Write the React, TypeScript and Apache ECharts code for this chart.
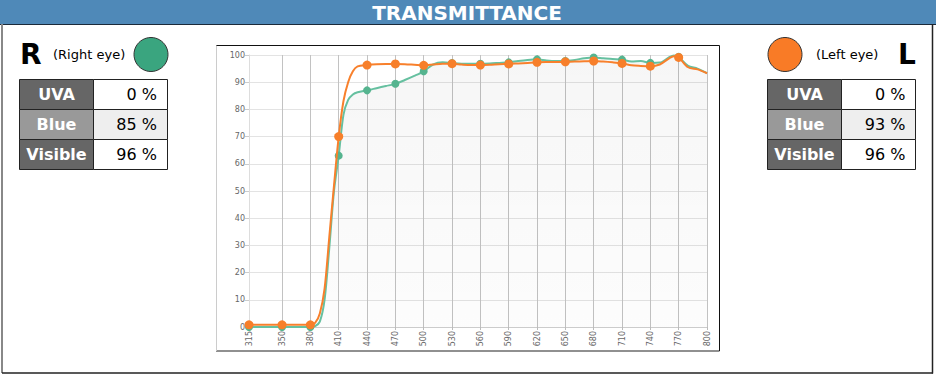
import React, { useEffect, useRef } from "react";
import * as echarts from "echarts";

// ---- data ----
const wavelengths = [315, 350, 380, 385, 390, 395, 400, 405, 410, 415, 420, 425, 430, 440, 450, 460, 470, 480, 490, 500, 510, 520, 530, 540, 550, 560, 570, 580, 590, 600, 610, 620, 630, 640, 650, 660, 670, 680, 690, 700, 710, 720, 730, 740, 750, 760, 765, 770, 780, 790, 800];
const rightEye = [0, 0, 0, 0.3, 2, 10, 29, 50, 63, 78, 83.5, 85.5, 86.3, 87.0, 87.8, 88.6, 89.4, 90.8, 92.3, 94.0, 96.5, 97.3, 97.0, 96.8, 96.8, 96.8, 96.9, 97.1, 97.3, 97.8, 98.2, 98.4, 98.0, 97.8, 97.8, 98.2, 98.8, 99.1, 98.8, 98.5, 98.3, 97.6, 97.8, 97.1, 97.2, 99.2, 99.8, 99.3, 96.0, 95.0, 93.3];
const leftEye = [0.8, 0.8, 0.8, 1.5, 5, 14, 33, 52, 70, 83, 90, 94, 95.8, 96.3, 96.6, 96.7, 96.7, 96.6, 96.4, 96.2, 96.5, 96.8, 96.8, 96.5, 96.3, 96.3, 96.4, 96.6, 96.7, 96.9, 97.1, 97.3, 97.4, 97.4, 97.5, 97.6, 97.7, 97.8, 97.6, 97.3, 96.9, 96.2, 96.0, 95.9, 96.5, 98.8, 99.5, 99.1, 95.5, 94.7, 93.3];
const markerWavelengths = [315, 350, 380, 410, 440, 470, 500, 530, 560, 590, 620, 650, 680, 710, 740, 770];
const xTickLabels = [315, 350, 380, 410, 440, 470, 500, 530, 560, 590, 620, 650, 680, 710, 740, 770, 800];
const rowLabels = ["UVA", "Blue", "Visible"];
const rightValues = [0, 85, 96];
const leftValues = [0, 93, 96];

const FONT = "DejaVu Sans";

function table(x0: number, valueRight: number, values: number[]) {
  const els: any[] = [];
  const labelBg = ["#666666", "#999999", "#666666"];
  const valueBg = ["#ffffff", "#eeeeee", "#ffffff"];
  rowLabels.forEach((lab, i) => {
    const y = 79.5 + 30 * i;
    els.push({
      type: "rect",
      shape: { x: x0, y, width: 74, height: 30 },
      style: { fill: labelBg[i], stroke: "#222", lineWidth: 1 },
    });
    els.push({
      type: "rect",
      shape: { x: x0 + 74, y, width: 74, height: 30 },
      style: { fill: valueBg[i], stroke: "#222", lineWidth: 1 },
    });
    els.push({
      type: "text",
      x: x0 + 37,
      y: y + 15,
      style: {
        text: lab,
        fill: "#fff",
        font: `bold 16px "${FONT}"`,
        textAlign: "center",
        textVerticalAlign: "middle",
      },
    });
    els.push({
      type: "text",
      x: valueRight,
      y: y + 15,
      style: {
        text: `${values[i]} %`,
        fill: "#000",
        font: `16px "${FONT}"`,
        textAlign: "right",
        textVerticalAlign: "middle",
      },
    });
  });
  return els;
}

export default function App() {
  const ref = useRef<HTMLDivElement>(null);
  useEffect(() => {
    if (!ref.current) return;
    const chart = echarts.init(ref.current, null, { renderer: "svg" });
    const isMarker = (v: any) => markerWavelengths.includes(v[0]);
    const graphic: any[] = [
      // chart frame background
      {
        type: "rect",
        z: -10,
        shape: { x: 216, y: 45.5, width: 503.5, height: 305.5 },
        style: { fill: "#fff", stroke: "none" },
      },
      { type: "line", shape: { x1: 216, y1: 45.5, x2: 719.5, y2: 45.5 }, style: { stroke: "#111", lineWidth: 1 } },
      { type: "line", shape: { x1: 719.5, y1: 45.5, x2: 719.5, y2: 351 }, style: { stroke: "#111", lineWidth: 1 } },
      { type: "line", shape: { x1: 216, y1: 351, x2: 719.5, y2: 351 }, style: { stroke: "#222", lineWidth: 1.2 } },
      { type: "line", shape: { x1: 216.5, y1: 45.5, x2: 216.5, y2: 351 }, style: { stroke: "#ccc", lineWidth: 1 } },
      // title bar
      {
        type: "rect",
        shape: { x: 0, y: 0, width: 936, height: 24 },
        style: { fill: "#4f89b8" },
      },
      { type: "line", shape: { x1: 0, y1: 24.5, x2: 936, y2: 24.5 }, style: { stroke: "#1b2a3a", lineWidth: 1 } },
      {
        type: "text",
        x: 467,
        y: 12.5,
        style: {
          text: "TRANSMITTANCE",
          fill: "#fff",
          font: `bold 20px "${FONT}"`,
          textAlign: "center",
          textVerticalAlign: "middle",
        },
      },
      // outer box
      { type: "line", shape: { x1: 2, y1: 24, x2: 2, y2: 373 }, style: { stroke: "#888", lineWidth: 2 } },
      { type: "line", shape: { x1: 2, y1: 373, x2: 933, y2: 373 }, style: { stroke: "#222", lineWidth: 1.5 } },
      { type: "line", shape: { x1: 932.5, y1: 24, x2: 932.5, y2: 373.5 }, style: { stroke: "#222", lineWidth: 1.5 } },
      // left panel header
      {
        type: "text",
        x: 20,
        y: 54,
        style: { text: "R", fill: "#000", font: `bold 28px "${FONT}"`, textAlign: "left", textVerticalAlign: "middle" },
      },
      {
        type: "text",
        x: 53,
        y: 54,
        style: { text: "(Right eye)", fill: "#000", font: `13px "${FONT}"`, textAlign: "left", textVerticalAlign: "middle" },
      },
      {
        type: "circle",
        shape: { cx: 151, cy: 54.5, r: 17 },
        style: { fill: "#3aa57f", stroke: "#333", lineWidth: 1 },
      },
      // right panel header
      {
        type: "circle",
        shape: { cx: 785, cy: 54.5, r: 17 },
        style: { fill: "#f97b26", stroke: "#333", lineWidth: 1 },
      },
      {
        type: "text",
        x: 816,
        y: 54,
        style: { text: "(Left eye)", fill: "#000", font: `13px "${FONT}"`, textAlign: "left", textVerticalAlign: "middle" },
      },
      {
        type: "text",
        x: 898,
        y: 54,
        style: { text: "L", fill: "#000", font: `bold 28px "${FONT}"`, textAlign: "left", textVerticalAlign: "middle" },
      },
      ...table(19.5, 157, rightValues),
      ...table(767.5, 905.5, leftValues),
    ];

    const areaStyle = {
      color: new echarts.graphic.LinearGradient(0, 0, 0, 1, [
        { offset: 0, color: "rgba(0,0,0,0.05)" },
        { offset: 1, color: "rgba(0,0,0,0.015)" },
      ]),
    };

    chart.setOption({
      animation: false,
      graphic,
      grid: { left: 249, right: 232, top: 55, bottom: 50, outerBoundsMode: "none", containLabel: false },
      xAxis: {
        type: "value",
        min: 315,
        max: 800,
        axisLine: { show: true, lineStyle: { color: "#ccc" } },
        axisTick: { show: true, length: 3, lineStyle: { color: "#bbb" }, customValues: xTickLabels },
        axisLabel: {
          customValues: xTickLabels,
          rotate: 90,
          fontSize: 8,
          color: "#666",
          fontFamily: FONT,
          margin: 4,
        },
        splitLine: { show: true, lineStyle: { color: "#c2c2c2", width: 1 } },
      },
      yAxis: {
        type: "value",
        min: 0,
        max: 100,
        interval: 10,
        axisLine: { show: true, lineStyle: { color: "#ddd" } },
        axisTick: { show: true, length: 4, lineStyle: { color: "#ccc" } },
        axisLabel: { fontSize: 8, color: "#666", fontFamily: FONT, margin: 4 },
        splitLine: { show: true, lineStyle: { color: "#e3e3e3" } },
      },
      series: [
        {
          type: "line",
          name: "Right eye",
          data: wavelengths.map((w, i) => [w, rightEye[i]]),
          smooth: 0.3,
          showAllSymbol: true,
          symbol: (v: any) => (isMarker(v) ? "circle" : "none"),
          symbolSize: 8,
          lineStyle: { color: "#66c0a0", width: 2 },
          itemStyle: { color: "#55b48f" },
          areaStyle,
          z: 2,
        },
        {
          type: "line",
          name: "Left eye",
          data: wavelengths.map((w, i) => [w, leftEye[i]]),
          smooth: 0.3,
          showAllSymbol: true,
          symbol: (v: any) => (isMarker(v) ? "circle" : "none"),
          symbolSize: 9,
          lineStyle: { color: "#f8802c", width: 2 },
          itemStyle: { color: "#f77f2a" },
          z: 3,
        },
      ],
    });
    return () => chart.dispose();
  }, []);
  return (
    <div
      ref={ref}
      style={{ position: "absolute", left: 0, top: 0, width: 939, height: 377, background: "#fff" }}
    />
  );
}
